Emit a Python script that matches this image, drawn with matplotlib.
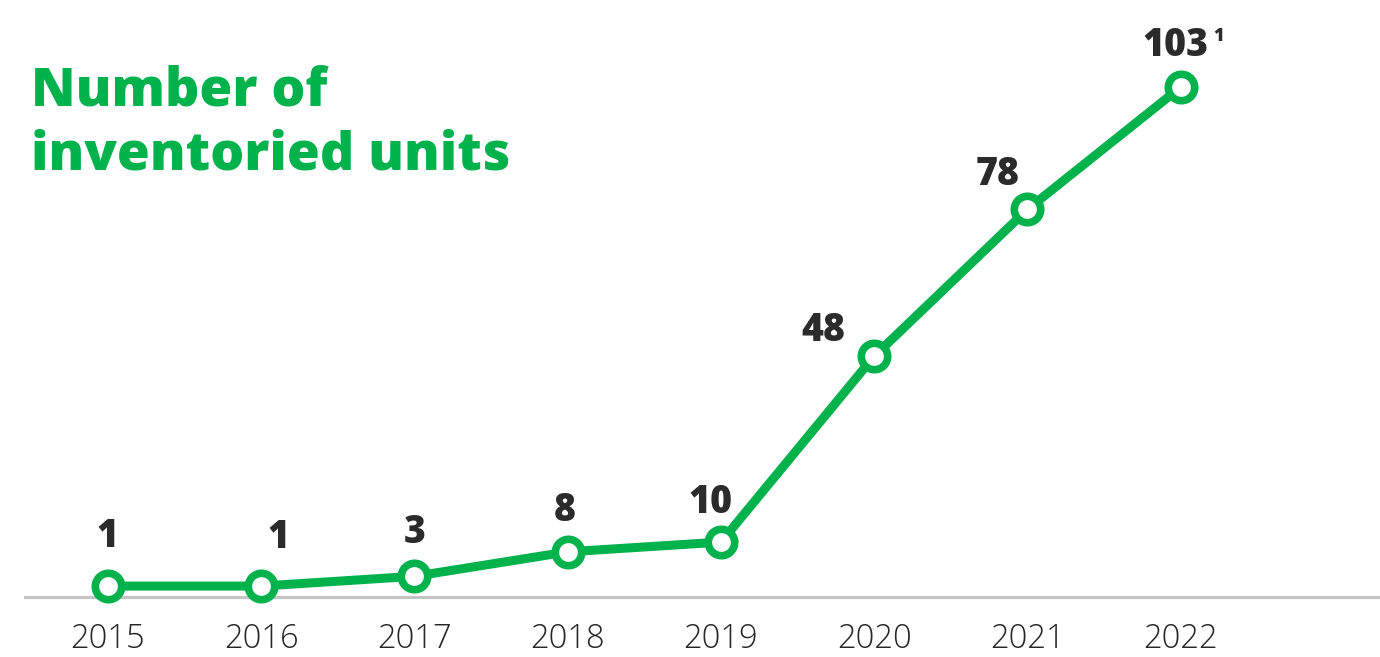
import matplotlib
matplotlib.use('Agg')
import matplotlib.pyplot as plt

years = ['2015', '2016', '2017', '2018', '2019', '2020', '2021', '2022']
units = [1, 1, 3, 8, 10, 48, 78, 103]
value_labels = ['1', '1', '3', '8', '10', '48', '78', '103']
# baseline offsets of the value labels from each point, in pixels
label_offsets = [(0, 39), (17, 38), (0, 33), (-3, 31), (-10, 29), (-51, 15), (-30, 24), (-5, 31)]

GREEN = '#00b24c'
DARK = '#2b2b2b'
FONT = 'Open Sans'

fig = plt.figure(figsize=(13.8, 6.57), dpi=100)
ax = fig.add_axes([25 / 1380, 1 - 597 / 657, 1355 / 1380, 597 / 657])

x = list(range(len(years)))
ax.plot(x, units, color=GREEN, lw=6.5, solid_capstyle='round', zorder=3,
        marker='o', markersize=19, markerfacecolor='white',
        markeredgecolor=GREEN, markeredgewidth=5.5, clip_on=False)

for xi, v, lab, (dx, dy) in zip(x, units, value_labels, label_offsets):
    ax.annotate(lab, (xi, v), xytext=(dx, dy), textcoords='offset pixels',
                ha='center', va='baseline', fontsize=27, fontweight='heavy',
                color=DARK, family=FONT)

# footnote marker on the last value
ax.annotate('1', (x[-1], units[-1]), xytext=(38, 46), textcoords='offset pixels',
            ha='center', va='baseline', fontsize=13, fontweight='heavy',
            color=DARK, family=FONT)

ax.set_xlim(-0.541, 8.30)
ax.set_ylim(-1.23, 120.8)
ax.set_xticks(x)
ax.set_xticklabels(years, fontsize=23.5, color='#262626', family=FONT, fontweight='light')
ax.tick_params(axis='x', length=0, pad=18)
ax.set_yticks([])
for side in ['top', 'right', 'left']:
    ax.spines[side].set_visible(False)
ax.spines['bottom'].set_color('#c4c4c4')
ax.spines['bottom'].set_linewidth(2.2)

fig.text(31 / 1380, 1 - 65 / 657, 'Number of\ninventoried units', ha='left', va='top',
         fontsize=38.5, fontweight='heavy', color=GREEN, family=FONT, linespacing=1.29)

fig.savefig('out.png', dpi=100)
